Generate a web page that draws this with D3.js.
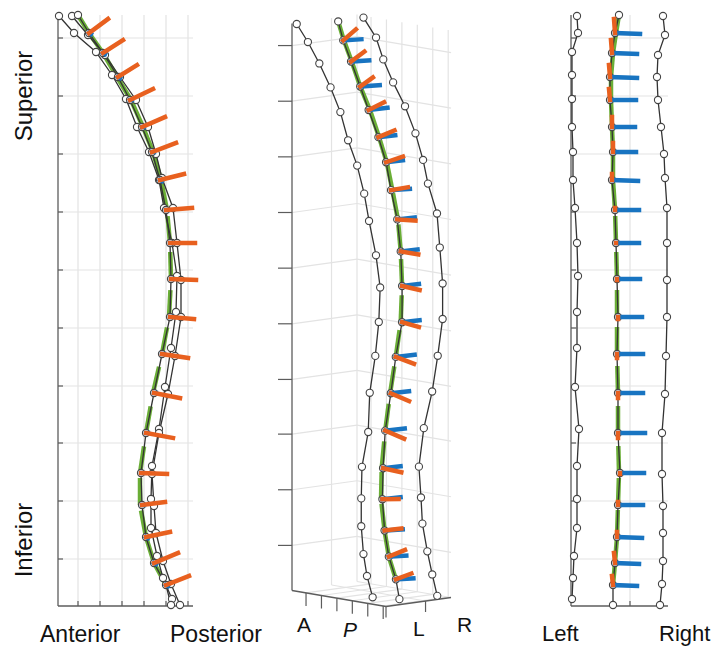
<!DOCTYPE html>
<html><head><meta charset="utf-8">
<script src="https://cdn.jsdelivr.net/npm/d3@7"></script>
<style>
body{margin:0;background:#fff}
svg{display:block}
text{font-family:"Liberation Sans",Arial,Helvetica,sans-serif;fill:#111}
</style>
</head><body>
<svg id="c" width="716" height="647"></svg>
<script>
// ---- Data (3D landmark positions, mm-like units) ----
// ap: anterior -> posterior, lr: left -> right, si: inferior -> superior
const levels = [0,1,2,3,4,5,6,7,8,9,10,11,12,13,14,15,16,17,18,19,20];
const leftAP   = [1,16,38,54,68,79,91,101,106,114,119,118,113,107,101,94,93,93,99,105,114];
const leftLR   = [6,7,1,1,1,1,2,2,4,6,7,6,6,4,8,6,6,6,3,2,1];
const leftSI   = [590,573,554,531,507,479,454,426,398,363,330,294,258,219,177,140,107,78,50,28,7];
const centerAP = [20,31,45,60,72,84,94,102,108,112,113,112,104,96,88,83,84,88,96,108,113];
const centerLR = [48,44,41,39,39,41,42,41,44,45,46,47,46,47,47,49,47,46,44,42,42];
const centerSI = [591,573,553,529,506,479,454,426,396,363,327,289,252,213,173,133,101,69,43,21,1];
const rightAP  = [14,30,47,62,78,90,98,104,115,119,123,123,117,110,101,94,96,98,105,113,122];
const rightLR  = [92,94,87,86,87,90,93,94,96,96,96,96,95,94,91,91,92,92,92,91,89];
const rightSI  = [590,571,551,529,506,479,452,428,398,363,326,289,250,212,173,132,100,73,45,22,1];
// fitted centre line (green)
const fitLevels = [0,1,2,3,4,5,6,7,8,9,10,11,12,13,14,15,16,17,18,19];
const fitAP = [20,31,45,59,73,85,95,103,109,112,113,111,104,95,88,82,82,88,96,108];
const fitLR = [48,45,42,40,40,41,42,42,44,45,46,46,46,47,47,48,47,46,44,42];
const fitSI = [591,573,553,529,506,479,454,426,396,363,327,289,252,213,173,133,101,69,43,21];
// local frame vectors at levels 1..19 (orange: AP axis, blue: LR axis)
const vecLevels = [1,2,3,4,5,6,7,8,9,10,11,12,13,14,15,16,17,18,19];
const apVecAP = [19,20,19,23,23,24,24,26,25,25,24,26,26,27,26,23,24,24,23];
const apVecLR = [-1,-1,-1,-1,0,0,0,0,0,0,0,0,0,0,0,0,0,-1,-1];
const apVecSI = [14,13,12,11,10,9,6,2,0,-1,-2,-4,-5,-5,-1,3,5,10,9];
const lrVecAP = [2,2,2,2,2,2,2,2,2,2,2,2,2,2,2,2,2,2,2];
const lrVecLR = [25,25,27,26,23,23,26,24,23,23,24,26,25,27,24,25,25,24,24];
const lrVecSI = [-1,-1,-1,0,0,0,-1,0,0,0,0,0,0,0,0,0,-1,-1,-1];
// ticks
const siTicks = [47,105,163,220,278,336,394,452,510,568];
const apTicks = [20,42,64,86,108,130];
const lrTicks = [59];
const lrAxisTicks = [0,59];
const AP_MAX = 135, LR_MAX = 97, SI_MAX = 591;

// ---- styles ----
const GRID="#e3e3e3", AXIS="#5c5c5c", CURVE="#333", ORANGE="#E8601F", BLUE="#1874C1", GREEN="#6aae36";

const svg = d3.select("#c");
const pt = (a,l,s,i)=>({ap:a[i],lr:l[i],si:s[i]});
const curves = [
  levels.map(i=>pt(leftAP,leftLR,leftSI,i)),
  levels.map(i=>pt(rightAP,rightLR,rightSI,i)),
  levels.map(i=>pt(centerAP,centerLR,centerSI,i))
];
const fit = fitLevels.map(i=>pt(fitAP,fitLR,fitSI,i));
const center = curves[2];
const vecs = vecLevels.map((lv,k)=>({
  base:center[lv],
  o:{ap:apVecAP[k],lr:apVecLR[k],si:apVecSI[k]},
  b:{ap:lrVecAP[k],lr:lrVecLR[k],si:lrVecSI[k]}
}));
const add = (p,v)=>({ap:p.ap+v.ap, lr:p.lr+v.lr, si:p.si+v.si});

function seg(g,a,b,stroke,w,extra){
  const p=g.append("line").attr("x1",a[0]).attr("y1",a[1]).attr("x2",b[0]).attr("y2",b[1])
    .attr("stroke",stroke).attr("stroke-width",w);
  if(extra) extra(p);
  return p;
}

function drawData(g,P){
  // green fitted line, segment by segment from inferior to superior
  for(let i=fit.length-1;i>0;i--){
    seg(g,P(fit[i]),P(fit[i-1]),GREEN,4.5,s=>s.attr("stroke-dasharray","27 600").attr("stroke-linecap","butt"));
  }
  const line = d3.line().x(d=>P(d)[0]).y(d=>P(d)[1]);
  curves.forEach(c=>g.append("path").attr("d",line(c)).attr("fill","none").attr("stroke",CURVE).attr("stroke-width",1.3));
  curves.forEach(c=>g.selectAll(null).data(c).enter().append("circle")
    .attr("cx",d=>P(d)[0]).attr("cy",d=>P(d)[1]).attr("r",3.6)
    .attr("fill","#fff").attr("stroke","#444").attr("stroke-width",1.1));
  vecs.forEach(v=>seg(g,P(v.base),P(add(v.base,v.b)),BLUE,4.5,s=>s.attr("stroke-linecap","square")));
  vecs.forEach(v=>seg(g,P(v.base),P(add(v.base,v.o)),ORANGE,4.5,s=>s.attr("stroke-linecap","square")));
}

const ySI = d3.scaleLinear().domain([0,SI_MAX]).range([606,15]);

// ---- Panel 1: sagittal ----
{
  const x = d3.scaleLinear().domain([0,AP_MAX]).range([58,193]);
  const g = svg.append("g");
  apTicks.forEach(t=>seg(g,[x(t),ySI(0)],[x(t),ySI(SI_MAX)],GRID,1.2));
  siTicks.forEach(t=>seg(g,[x(0),ySI(t)],[x(AP_MAX),ySI(t)],GRID,1.2));
  seg(g,[x(0),ySI(0)],[x(0),ySI(SI_MAX)],AXIS,1.3);
  seg(g,[x(0),ySI(0)],[x(AP_MAX),ySI(0)],AXIS,1.3);
  siTicks.forEach(t=>seg(g,[x(0),ySI(t)],[x(0)+5,ySI(t)],AXIS,1.2));
  apTicks.forEach(t=>seg(g,[x(t),ySI(0)],[x(t),ySI(0)-5],AXIS,1.2));
  drawData(g,p=>[x(p.ap),ySI(p.si)]);
}

// ---- Panel 3: coronal ----
{
  const x = d3.scaleLinear().domain([0,LR_MAX]).range([571,668]);
  const g = svg.append("g");
  lrTicks.forEach(t=>seg(g,[x(t),ySI(0)],[x(t),ySI(SI_MAX)],GRID,1.2));
  siTicks.forEach(t=>seg(g,[x(0),ySI(t)],[x(LR_MAX),ySI(t)],GRID,1.2));
  seg(g,[x(0),ySI(0)],[x(0),ySI(SI_MAX)],AXIS,1.3);
  seg(g,[x(0),ySI(0)],[x(LR_MAX),ySI(0)],AXIS,1.3);
  siTicks.forEach(t=>seg(g,[x(0),ySI(t)],[x(0)+5,ySI(t)],AXIS,1.2));
  lrTicks.forEach(t=>seg(g,[x(t),ySI(0)],[x(t),ySI(0)-5],AXIS,1.2));
  drawData(g,p=>[x(p.lr),ySI(p.si)]);
}

// ---- Panel 2: oblique 3D view ----
{
  const O=[292,590.5];
  const AP_BOX=134;
  const apX=d3.scaleLinear().domain([0,AP_BOX]).range([0,94]);
  const apY=d3.scaleLinear().domain([0,AP_BOX]).range([0,16]);
  const lrX=d3.scaleLinear().domain([0,LR_MAX]).range([0,65]);
  const lrY=d3.scaleLinear().domain([0,LR_MAX]).range([0,-9]);
  const siY=d3.scaleLinear().domain([0,SI_MAX]).range([0,-567]);
  const P=p=>[O[0]+apX(p.ap)+lrX(p.lr), O[1]+apY(p.ap)+lrY(p.lr)+siY(p.si)];
  const q=(ap,lr,si)=>P({ap,lr,si});
  const g = svg.append("g");
  // left wall (ap=0)
  siTicks.forEach(t=>seg(g,q(0,0,t),q(0,LR_MAX,t),GRID,1.2));
  lrTicks.forEach(t=>seg(g,q(0,t,0),q(0,t,SI_MAX),GRID,1.2));
  // right wall (lr=max)
  siTicks.forEach(t=>seg(g,q(0,LR_MAX,t),q(AP_BOX,LR_MAX,t),GRID,1.2));
  apTicks.forEach(t=>seg(g,q(t,LR_MAX,0),q(t,LR_MAX,SI_MAX),GRID,1.2));
  seg(g,q(0,LR_MAX,0),q(0,LR_MAX,SI_MAX),GRID,1.2);
  // floor
  apTicks.forEach(t=>seg(g,q(t,0,0),q(t,LR_MAX,0),GRID,1.2));
  lrTicks.forEach(t=>seg(g,q(0,t,0),q(AP_BOX,t,0),GRID,1.2));
  seg(g,q(0,LR_MAX,0),q(AP_BOX,LR_MAX,0),GRID,1.2);
  // axes
  seg(g,q(0,0,0),q(0,0,SI_MAX),AXIS,1.3);
  seg(g,q(0,0,0),q(AP_BOX,0,0),AXIS,1.3);
  seg(g,q(AP_BOX,0,0),q(AP_BOX,LR_MAX,0),AXIS,1.3);
  siTicks.forEach(t=>{const a=q(0,0,t); seg(g,a,[a[0]-14,a[1]],AXIS,1.2);});
  apTicks.forEach(t=>{const a=q(t,0,0); seg(g,a,[a[0],a[1]+13],AXIS,1.2);});
  lrAxisTicks.forEach(t=>{const a=q(AP_BOX,t,0); seg(g,a,[a[0],a[1]+11],AXIS,1.2);});
  drawData(g,P);
}

// ---- Labels ----
const T=(txt,x,y,size,opts={})=>{
  const t=svg.append("text").attr("x",x).attr("y",y).attr("font-size",size).text(txt);
  if(opts.anchor) t.attr("text-anchor",opts.anchor);
  if(opts.rot) t.attr("transform",`rotate(${opts.rot},${x},${y})`);
  if(opts.italic) t.attr("font-style","italic");
  return t;
};
T("Superior",32,96,24,{anchor:"middle",rot:-90});
T("Inferior",32,540,24,{anchor:"middle",rot:-90});
T("Anterior",40,642,23);
T("Posterior",170,642,23);
T("A",297,632,21);
T("P",343,637,21,{italic:true});
T("L",413,636,21);
T("R",457,632,21);
T("Left",542,641,22);
T("Right",659,641,22);
</script>
</body></html>
